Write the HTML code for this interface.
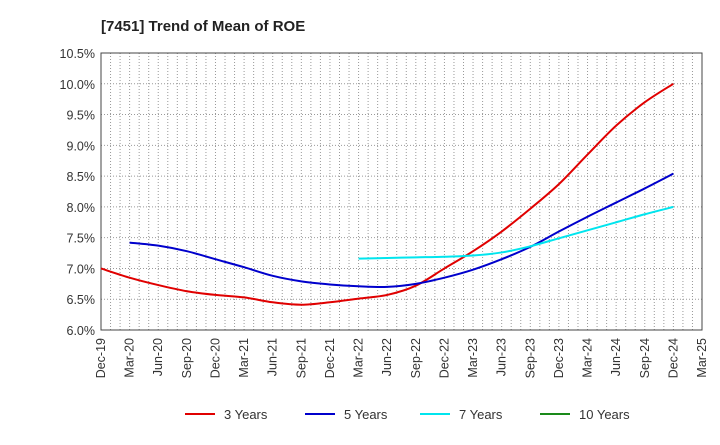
<!DOCTYPE html>
<html><head><meta charset="utf-8"><style>
body{margin:0;background:#fff;font-family:"Liberation Sans",sans-serif}
svg text{font-family:"Liberation Sans",sans-serif}
</style></head><body>
<svg id="c" width="720" height="440" xmlns="http://www.w3.org/2000/svg">
<text x="101" y="31" font-size="15" font-weight="bold" fill="#222">[7451]  Trend of Mean of ROE</text>
<g id="grid"></g><g id="axes"></g><g id="lines"></g><g id="legend"></g>
</svg>
<script>
const xLabels=["Dec-19","Mar-20","Jun-20","Sep-20","Dec-20","Mar-21","Jun-21","Sep-21","Dec-21","Mar-22","Jun-22","Sep-22","Dec-22","Mar-23","Jun-23","Sep-23","Dec-23","Mar-24","Jun-24","Sep-24","Dec-24","Mar-25"];
const yTicks=[6.0,6.5,7.0,7.5,8.0,8.5,9.0,9.5,10.0,10.5];
const s3=[7.0,6.85,6.73,6.63,6.57,6.53,6.45,6.41,6.45,6.51,6.57,6.72,7.0,7.28,7.6,7.97,8.37,8.85,9.32,9.7,10.0];
const s5=[null,7.42,7.37,7.28,7.15,7.02,6.88,6.79,6.74,6.71,6.7,6.75,6.85,6.98,7.15,7.35,7.6,7.84,8.07,8.3,8.54];
const s7=[null,null,null,null,null,null,null,null,null,7.16,7.17,7.18,7.19,7.21,7.26,7.36,7.49,7.62,7.75,7.88,8.0];
const s10=[];
const names=["3 Years","5 Years","7 Years","10 Years"];
const colors=["#e00000","#0000cc","#00e5ee","#1a8a1a"];
const X0=101,X1=702,Y0=330,Y1=53,NS="http://www.w3.org/2000/svg";
const xs=i=>X0+(X1-X0)*i/(xLabels.length-1);
const ys=v=>Y0-(v-6.0)/(10.5-6.0)*(Y0-Y1);
function mk(t,a,p){const e=document.createElementNS(NS,t);for(const k in a)e.setAttribute(k,a[k]);p.appendChild(e);return e;}
const g=document.getElementById('grid'),ax=document.getElementById('axes'),ln=document.getElementById('lines'),lg=document.getElementById('legend');
for(let m=1;m<(xLabels.length-1)*3;m++){const x=X0+(X1-X0)*m/((xLabels.length-1)*3);
const l=mk('line',{x1:x,x2:x,y1:Y1,y2:Y0,stroke:'#999','stroke-dasharray':'1,2','stroke-width':1},g);

}
yTicks.forEach(v=>{const y=ys(v);
const l=mk('line',{x1:X0,x2:X1,y1:y,y2:y,stroke:'#999','stroke-dasharray':'1,2','stroke-width':1},g);


const t=mk('text',{x:X0-6,y:y+5,'text-anchor':'end','font-size':12.5,fill:'#333'},ax);t.textContent=v.toFixed(1)+'%';

});
const r=mk('rect',{x:X0,y:Y1,width:X1-X0,height:Y0-Y1,fill:'none',stroke:'#444','stroke-width':1},ax);


xLabels.forEach((s,i)=>{const x=xs(i);
const t=mk('text',{x:0,y:0,'text-anchor':'end','font-size':12.5,fill:'#333',transform:`translate(${x+4},${Y0+8}) rotate(-90)`},ax);t.textContent=s;

});
function path(arr){const pts=[];arr.forEach((v,i)=>{if(v!=null)pts.push([xs(i),ys(v)]);});if(pts.length<2)return '';
let d=`M${pts[0][0]},${pts[0][1]}`;for(let i=0;i<pts.length-1;i++){const p0=pts[i-1]||pts[i],p1=pts[i],p2=pts[i+1],p3=pts[i+2]||p2;
d+=` C${p1[0]+(p2[0]-p0[0])/6},${p1[1]+(p2[1]-p0[1])/6} ${p2[0]-(p3[0]-p1[0])/6},${p2[1]-(p3[1]-p1[1])/6} ${p2[0]},${p2[1]}`;}return d;}
[s3,s5,s7,s10].forEach((s,k)=>{const d=path(s);if(!d)return;
const p=mk('path',{d:d,fill:'none',stroke:colors[k],'stroke-width':2},ln);

});
const lx=[185,305,420,540];
names.forEach((n,k)=>{const l=mk('line',{x1:lx[k],x2:lx[k]+30,y1:414,y2:414,stroke:colors[k],'stroke-width':2},lg);


const t=mk('text',{x:lx[k]+39,y:419,'font-size':13,fill:'#333'},lg);t.textContent=n;

});
</script>
</body></html>
